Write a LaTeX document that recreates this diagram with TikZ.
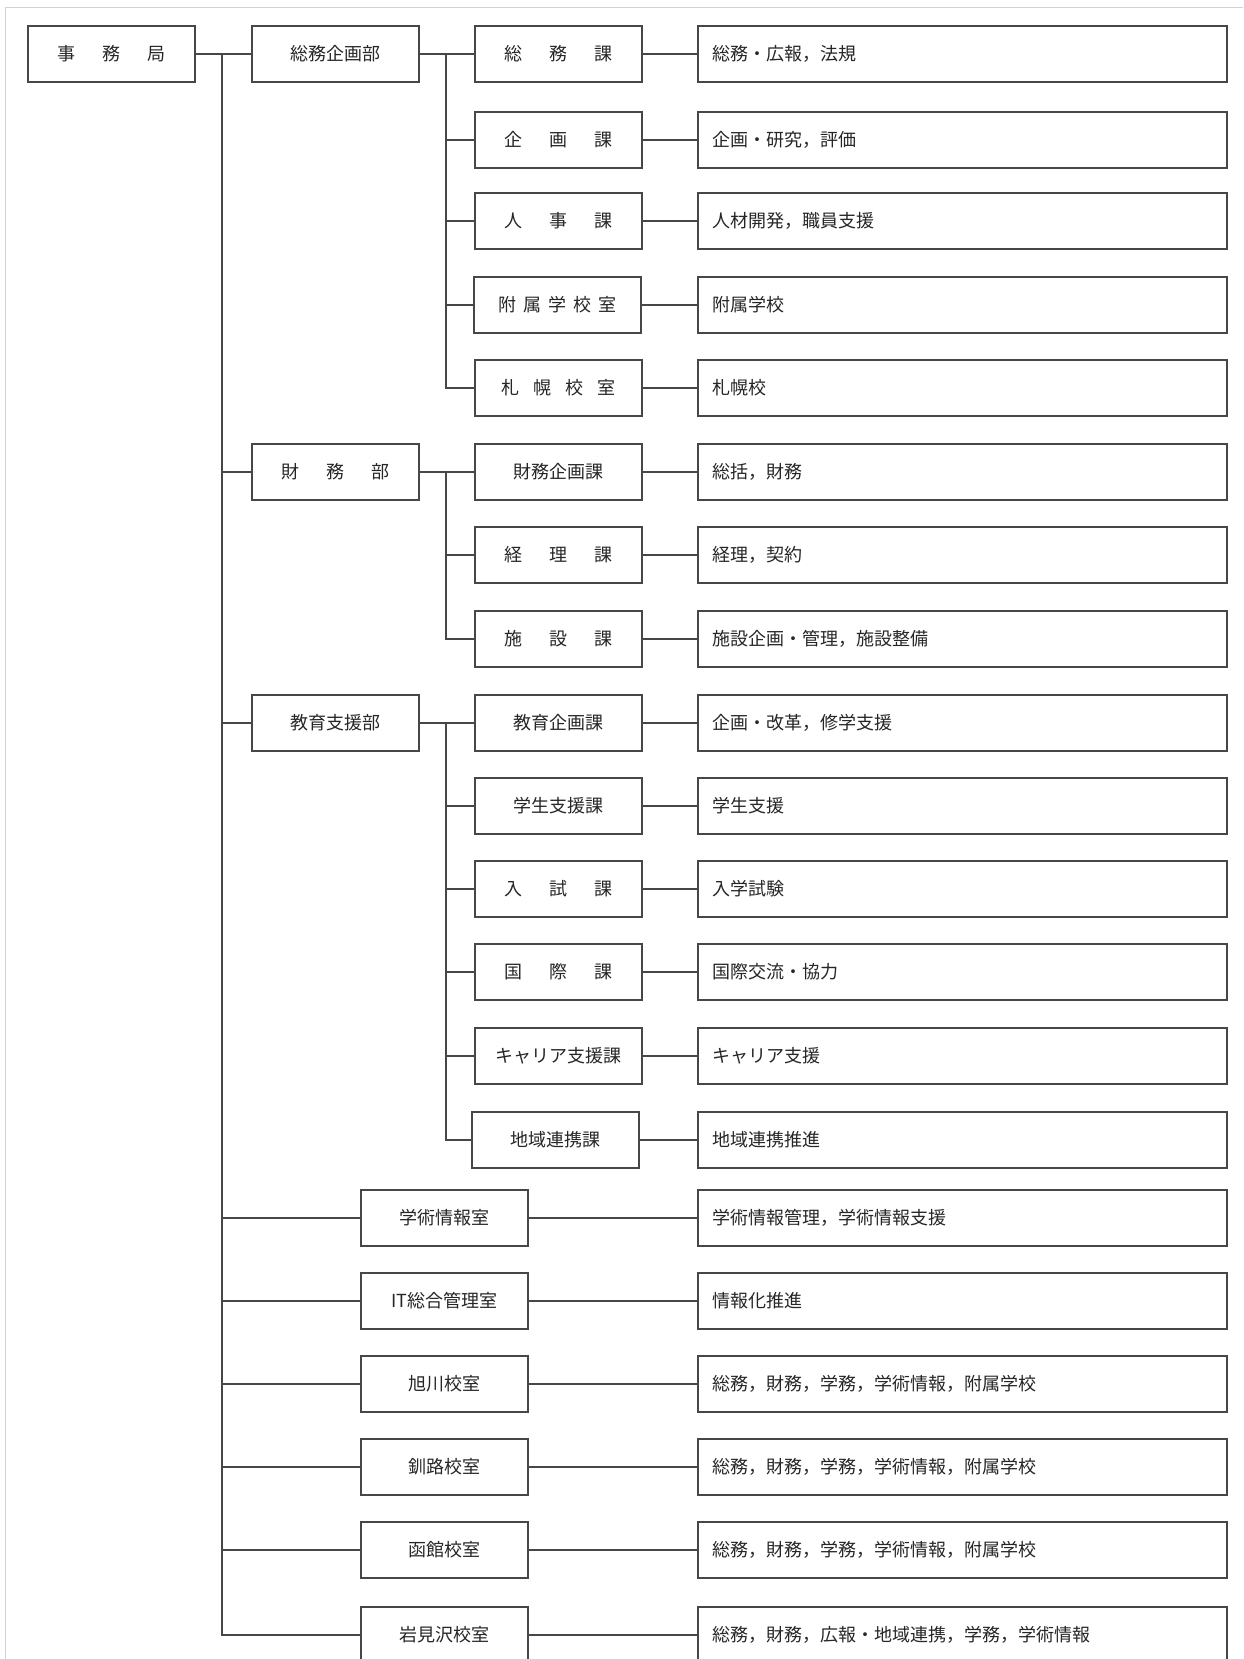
\documentclass[tikz,border=0pt]{standalone}
\usepackage{fontspec}
\setmainfont{Noto Sans CJK JP}
\definecolor{ln}{HTML}{474747}
\definecolor{tx}{HTML}{262626}
\newcommand\gapW{\hspace{27pt}}
\newcommand\gapS{\hspace{7pt}}
\newcommand\gapM{\hspace{14pt}}
\tikzset{
  box/.style={draw=ln, line width=2pt, minimum height=56pt, inner sep=0pt, text=tx,
              font=\fontsize{18}{21}\selectfont},
  unit/.style={box, minimum width=167pt},
  desc/.style={box, anchor=west, text width=501pt, inner xsep=14pt, align=left},
  conn/.style={draw=ln, line width=2pt},
}
\begin{document}
\begin{tikzpicture}[x=1pt,y=-1pt]
\useasboundingbox (0,0) rectangle (1243,1659);
\clip (0,0) rectangle (1243,1659);
\fill[white] (0,0) rectangle (1243,1659);
\draw[gray!35, line width=1pt] (5,1659) -- (5,8) -- (1243,8);

% level 1
\node[unit] (jimu) at (111.5,54) {事\gapW 務\gapW 局};
% level 2
\node[unit] (bu1) at (335.5,54) {総務企画部};
\node[unit] (bu2) at (335.5,472) {財\gapW 務\gapW 部};
\node[unit] (bu3) at (335.5,723) {教育支援部};
% level 3
\node[unit] (k1) at (558.5,54) {総\gapW 務\gapW 課};
\node[unit] (k2) at (558.5,140) {企\gapW 画\gapW 課};
\node[unit] (k3) at (558.5,221) {人\gapW 事\gapW 課};
\node[unit] (k4) at (557.5,305) {附\gapS 属\gapS 学\gapS 校\gapS 室};
\node[unit] (k5) at (558.5,388) {札\gapM 幌\gapM 校\gapM 室};
\node[unit] (k6) at (558.5,472) {財務企画課};
\node[unit] (k7) at (558.5,555) {経\gapW 理\gapW 課};
\node[unit] (k8) at (558.5,639) {施\gapW 設\gapW 課};
\node[unit] (k9) at (558.5,723) {教育企画課};
\node[unit] (k10) at (558.5,806) {学生支援課};
\node[unit] (k11) at (558.5,889) {入\gapW 試\gapW 課};
\node[unit] (k12) at (558.5,972) {国\gapW 際\gapW 課};
\node[unit] (k13) at (558.5,1056) {キャリア支援課};
\node[unit] (k14) at (555.5,1140) {地域連携課};
% rooms
\node[unit] (r1) at (444.5,1218) {学術情報室};
\node[unit] (r2) at (444.5,1301) {IT総合管理室};
\node[unit] (r3) at (444.5,1384) {旭川校室};
\node[unit] (r4) at (444.5,1467) {釧路校室};
\node[unit] (r5) at (444.5,1550) {函館校室};
\node[unit] (r6) at (444.5,1635) {岩見沢校室};

% descriptions
\node[desc] (d1) at (697,54) {総務・広報，法規};
\node[desc] (d2) at (697,140) {企画・研究，評価};
\node[desc] (d3) at (697,221) {人材開発，職員支援};
\node[desc] (d4) at (697,305) {附属学校};
\node[desc] (d5) at (697,388) {札幌校};
\node[desc] (d6) at (697,472) {総括，財務};
\node[desc] (d7) at (697,555) {経理，契約};
\node[desc] (d8) at (697,639) {施設企画・管理，施設整備};
\node[desc] (d9) at (697,723) {企画・改革，修学支援};
\node[desc] (d10) at (697,806) {学生支援};
\node[desc] (d11) at (697,889) {入学試験};
\node[desc] (d12) at (697,972) {国際交流・協力};
\node[desc] (d13) at (697,1056) {キャリア支援};
\node[desc] (d14) at (697,1140) {地域連携推進};
\node[desc] (d15) at (697,1218) {学術情報管理，学術情報支援};
\node[desc] (d16) at (697,1301) {情報化推進};
\node[desc] (d17) at (697,1384) {総務，財務，学務，学術情報，附属学校};
\node[desc] (d18) at (697,1467) {総務，財務，学務，学術情報，附属学校};
\node[desc] (d19) at (697,1550) {総務，財務，学務，学術情報，附属学校};
\node[desc] (d20) at (697,1635) {総務，財務，広報・地域連携，学務，学術情報};

% trunk
\coordinate (tr) at (222,0);
\draw[conn] (jimu.east) -- (bu1.west);
\draw[conn] (bu1.west -| tr) |- (r6.west);
\foreach \n in {bu2,bu3,r1,r2,r3,r4,r5} \draw[conn] (\n.west -| tr) -- (\n.west);

% branches
\coordinate (br) at (446,0);
\draw[conn] (bu1.east) -- (k1.west);
\draw[conn] (k1.west -| br) |- (k5.west);
\foreach \n in {k2,k3,k4} \draw[conn] (\n.west -| br) -- (\n.west);

\draw[conn] (bu2.east) -- (k6.west);
\draw[conn] (k6.west -| br) |- (k8.west);
\draw[conn] (k7.west -| br) -- (k7.west);

\draw[conn] (bu3.east) -- (k9.west);
\draw[conn] (k9.west -| br) |- (k14.west);
\foreach \n in {k10,k11,k12,k13} \draw[conn] (\n.west -| br) -- (\n.west);

% to descriptions
\foreach \i in {1,...,14} \draw[conn] (k\i.east) -- (d\i.west);
\foreach \i [evaluate=\i as \j using int(\i+14)] in {1,...,6} \draw[conn] (r\i.east) -- (d\j.west);
\end{tikzpicture}
\end{document}
